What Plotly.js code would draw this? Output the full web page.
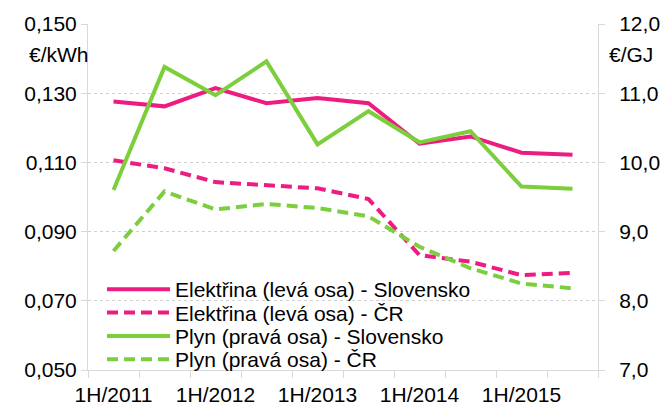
<!DOCTYPE html>
<html>
<head>
<meta charset="utf-8">
<script src="https://cdn.plot.ly/plotly-3.0.1.min.js"></script>
<style>html,body{margin:0;padding:0;background:#fff;}#chart{width:661px;height:405px;}</style>
</head>
<body>
<div id="chart"></div>
<script>
const periods = ["1H/2011","2H/2011","1H/2012","2H/2012","1H/2013","2H/2013","1H/2014","2H/2014","1H/2015","2H/2015"];
const tickLabels = ["1H/2011","1H/2012","1H/2013","1H/2014","1H/2015"];
const elektrinaSK = [0.1276,0.1262,0.1315,0.1271,0.1286,0.1271,0.1154,0.1175,0.1128,0.1122];
const elektrinaCR = [0.1106,0.1083,0.1043,0.1034,0.1025,0.0994,0.0832,0.0813,0.0774,0.0781];
const plynSK = [9.60,11.38,10.97,11.46,10.26,10.74,10.29,10.45,9.65,9.62];
const plynCR = [8.72,9.58,9.32,9.40,9.34,9.22,8.78,8.47,8.25,8.18];
const names = ["Elektřina (levá osa) - Slovensko","Elektřina (levá osa) - ČR","Plyn (pravá osa) - Slovensko","Plyn (pravá osa) - ČR"];

const pink = "#EC1C80", green = "#7DCE3C";
const idx = periods.map((p,i)=>i);
const tickIdx = tickLabels.map(t=>periods.indexOf(t));
const dash = "11px,6px";

const traces = [
  {x: idx, y: elektrinaSK, name: names[0], legend:"legend", type:"scatter", mode:"lines", line:{color:pink,width:4}, yaxis:"y", text: periods, hoverinfo:"text+y"},
  {x: idx, y: elektrinaCR, name: names[1], legend:"legend2", type:"scatter", mode:"lines", line:{color:pink,width:4,dash:dash}, yaxis:"y", text: periods, hoverinfo:"text+y"},
  {x: idx, y: plynSK, name: names[2], legend:"legend3", type:"scatter", mode:"lines", line:{color:green,width:4}, yaxis:"y2", text: periods, hoverinfo:"text+y"},
  {x: idx, y: plynCR, name: names[3], legend:"legend4", type:"scatter", mode:"lines", line:{color:green,width:4,dash:dash}, yaxis:"y2", text: periods, hoverinfo:"text+y"}
];

const boundaries = [];
for (let i = 0; i <= periods.length; i++) boundaries.push(i - 0.5);

const fam = "Liberation Sans, Arial, sans-serif";
const fs = 21;
const txt = {family:fam, size:fs, color:"#000"};
const plotL = 88, plotR = 598, plotT = 23.5, plotB = 370;
function leg(rowY){
  return {xref:"paper", yref:"paper", x:(102-plotL)/(plotR-plotL), y:(plotB-rowY)/(plotB-plotT), xanchor:"left", yanchor:"middle",
          bgcolor:"rgba(0,0,0,0)", font:txt, itemwidth:63, borderwidth:0};
}
const layout = {
  width:661, height:405,
  margin:{l:plotL, r:661-plotR, t:plotT, b:405-plotB, pad:0, autoexpand:false},
  paper_bgcolor:"#fff", plot_bgcolor:"#fff",
  separators:", ",
  font: txt,
  showlegend:true,
  legend: leg(289.5),
  legend2: leg(312.8),
  legend3: leg(336.3),
  legend4: leg(359.5),
  xaxis:{
    range:[-0.5, periods.length-0.5], tickmode:"array", tickvals:tickIdx, ticktext:tickLabels,
    ticks:"", showgrid:false, zeroline:false, showline:true, linecolor:"#d9d9d9", linewidth:1,
    tickfont:txt, ticklabelstandoff:6, tickangle:0, automargin:false,
    minor:{tickmode:"array", tickvals:boundaries, ticks:"outside", ticklen:7, tickcolor:"#d9d9d9", tickwidth:1, showgrid:false}
  },
  yaxis:{
    range:[0.05,0.15], tickmode:"linear", tick0:0.05, dtick:0.02, tickformat:".3f",
    ticks:"outside", ticklen:6, tickcolor:"#d9d9d9", showline:true, linecolor:"#d9d9d9",
    showgrid:true, gridcolor:"#d0d0d0", griddash:"dot", gridwidth:1, zeroline:false,
    tickfont:txt, automargin:false
  },
  yaxis2:{
    range:[7,12], tickmode:"linear", tick0:7, dtick:1, tickformat:".1f",
    overlaying:"y", side:"right",
    ticks:"outside", ticklen:6, tickcolor:"#d9d9d9", showline:true, linecolor:"#d9d9d9",
    showgrid:false, zeroline:false, ticklabelstandoff:10,
    tickfont:txt, automargin:false
  },
  annotations:[
    {text:"€/kWh", xref:"paper", yref:"paper", x:(27-plotL)/(plotR-plotL), y:0.912, xanchor:"left", yanchor:"middle", showarrow:false, font:txt},
    {text:"€/GJ", xref:"paper", yref:"paper", x:(607-plotL)/(plotR-plotL), y:0.912, xanchor:"left", yanchor:"middle", showarrow:false, font:txt}
  ]
};

Plotly.newPlot("chart", traces, layout, {displayModeBar:false});
</script>
</body>
</html>
